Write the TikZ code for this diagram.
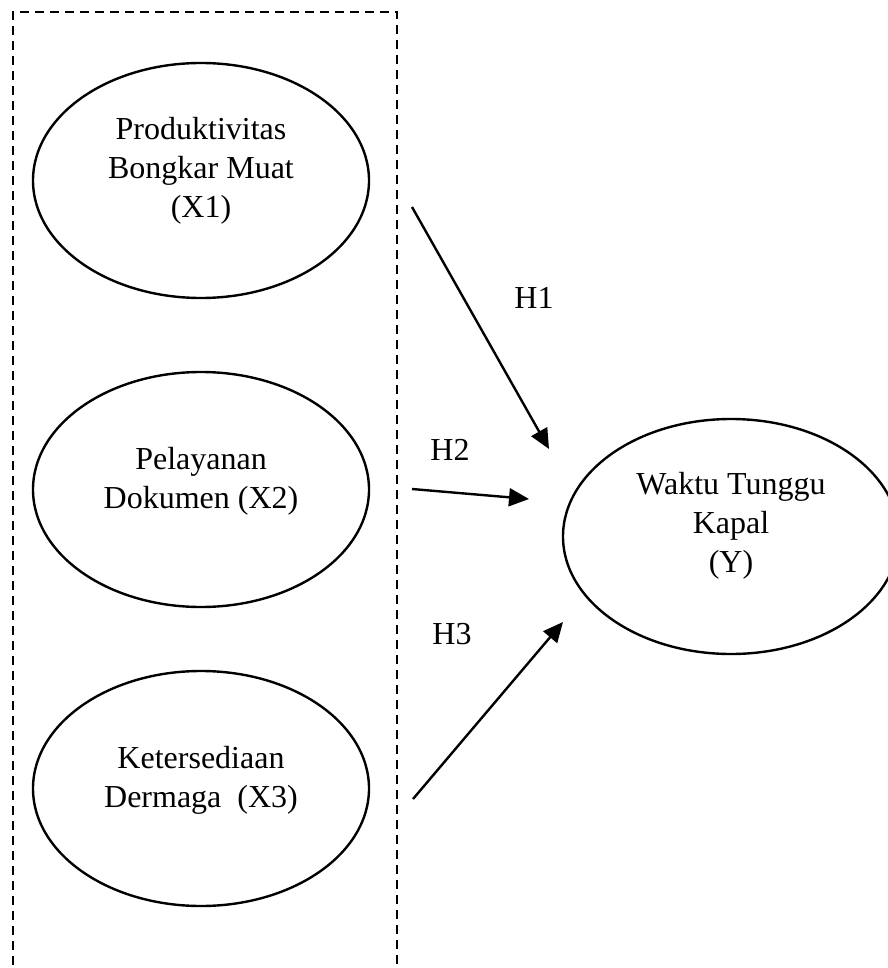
\documentclass[tikz,border=0pt]{standalone}
\usepackage{fontspec}
\setmainfont{Liberation Serif}
\usetikzlibrary{arrows.meta,shapes.geometric}
\begin{document}
\begin{tikzpicture}[x=1pt,y=-1pt,
  oval/.style={draw, line width=2.4pt, ellipse, minimum width=336pt, minimum height=235pt, inner sep=0pt},
  txt/.style={font=\fontsize{32}{39}\selectfont, align=center, inner sep=0pt},
  hyp/.style={font=\fontsize{32}{39}\selectfont, inner sep=0pt, anchor=base},
  link/.style={line width=2.4pt, -{Triangle[length=20pt,width=18pt]}},
  frame/.style={line width=2.4pt, dash pattern=on 9pt off 6pt}]
\useasboundingbox (0,0) rectangle (887,968);
% dashed frame (open at the bottom)
\coordinate (fbl) at (13,980);
\coordinate (ftl) at (13,12);
\coordinate (ftr) at (397,12);
\coordinate (fbr) at (397,980);
\draw[frame] (fbl) -- (ftl) -- (ftr) -- (fbr);
% ellipses
\node[oval] (x1) at (201,180.5) {};
\node[oval] (x2) at (201,489.5) {};
\node[oval] (x3) at (201,788.5) {};
\node[oval] (y) at (731,536.5) {};
% texts
\node[txt] (tx1) at (201,170.5) {Produktivitas\\Bongkar Muat\\(X1)};
\node[txt] (tx2) at (201,481.5) {Pelayanan\\Dokumen (X2)};
\node[txt] (tx3) at (201,780) {Ketersediaan\\Dermaga\ \ (X3)};
\node[txt] (ty) at (731,525.5) {Waktu Tunggu\\Kapal\\(Y)};
% hypothesis labels
\node[hyp] (h1) at (534,308) {H1};
\node[hyp] (h2) at (450,460) {H2};
\node[hyp] (h3) at (452,644) {H3};
% arrows
\coordinate (s1) at (412,207);
\coordinate (e1) at (549,449);
\coordinate (s2) at (412,489);
\coordinate (e2) at (529,499);
\coordinate (s3) at (413,799);
\coordinate (e3) at (563,622);
\draw[link] (s1) -- (e1);
\draw[link] (s2) -- (e2);
\draw[link] (s3) -- (e3);
\end{tikzpicture}
\end{document}
